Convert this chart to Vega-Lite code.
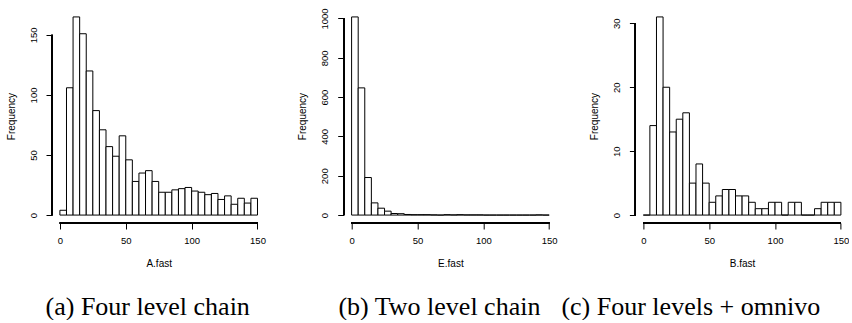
{
  "$schema": "https://vega.github.io/schema/vega-lite/v6.json",
  "background": "white",
  "padding": {"left": 6, "top": 7, "right": 0, "bottom": 0},
  "datasets": {
    "A": [
      {"x0": 0, "x1": 5, "n": 4}, {"x0": 5, "x1": 10, "n": 106}, {"x0": 10, "x1": 15, "n": 165},
      {"x0": 15, "x1": 20, "n": 151}, {"x0": 20, "x1": 25, "n": 120}, {"x0": 25, "x1": 30, "n": 87},
      {"x0": 30, "x1": 35, "n": 71}, {"x0": 35, "x1": 40, "n": 57}, {"x0": 40, "x1": 45, "n": 49},
      {"x0": 45, "x1": 50, "n": 66}, {"x0": 50, "x1": 55, "n": 46}, {"x0": 55, "x1": 60, "n": 28},
      {"x0": 60, "x1": 65, "n": 35}, {"x0": 65, "x1": 70, "n": 37}, {"x0": 70, "x1": 75, "n": 28},
      {"x0": 75, "x1": 80, "n": 19}, {"x0": 80, "x1": 85, "n": 19}, {"x0": 85, "x1": 90, "n": 21},
      {"x0": 90, "x1": 95, "n": 22}, {"x0": 95, "x1": 100, "n": 23}, {"x0": 100, "x1": 105, "n": 20},
      {"x0": 105, "x1": 110, "n": 19}, {"x0": 110, "x1": 115, "n": 17}, {"x0": 115, "x1": 120, "n": 18},
      {"x0": 120, "x1": 125, "n": 13}, {"x0": 125, "x1": 130, "n": 16}, {"x0": 130, "x1": 135, "n": 9},
      {"x0": 135, "x1": 140, "n": 14}, {"x0": 140, "x1": 145, "n": 10}, {"x0": 145, "x1": 150, "n": 14}
    ],
    "B": [
      {"x0": 0, "x1": 5, "n": 1008}, {"x0": 5, "x1": 10, "n": 647}, {"x0": 10, "x1": 15, "n": 191},
      {"x0": 15, "x1": 20, "n": 62}, {"x0": 20, "x1": 25, "n": 35}, {"x0": 25, "x1": 30, "n": 20},
      {"x0": 30, "x1": 35, "n": 8}, {"x0": 35, "x1": 40, "n": 7}, {"x0": 40, "x1": 45, "n": 3},
      {"x0": 45, "x1": 50, "n": 2}, {"x0": 50, "x1": 55, "n": 2}, {"x0": 55, "x1": 60, "n": 2},
      {"x0": 60, "x1": 65, "n": 1}, {"x0": 65, "x1": 70, "n": 0}, {"x0": 70, "x1": 75, "n": 2},
      {"x0": 75, "x1": 80, "n": 1}, {"x0": 80, "x1": 85, "n": 2}, {"x0": 85, "x1": 90, "n": 1},
      {"x0": 90, "x1": 95, "n": 1}, {"x0": 95, "x1": 100, "n": 1}, {"x0": 100, "x1": 105, "n": 0},
      {"x0": 105, "x1": 110, "n": 0}, {"x0": 110, "x1": 115, "n": 0}, {"x0": 115, "x1": 120, "n": 0},
      {"x0": 120, "x1": 125, "n": 0}, {"x0": 125, "x1": 130, "n": 0}, {"x0": 130, "x1": 135, "n": 0},
      {"x0": 135, "x1": 140, "n": 0}, {"x0": 140, "x1": 145, "n": 1}, {"x0": 145, "x1": 150, "n": 0}
    ],
    "C": [
      {"x0": 0, "x1": 5, "n": 0}, {"x0": 5, "x1": 10, "n": 14}, {"x0": 10, "x1": 15, "n": 31},
      {"x0": 15, "x1": 20, "n": 20}, {"x0": 20, "x1": 25, "n": 13}, {"x0": 25, "x1": 30, "n": 15},
      {"x0": 30, "x1": 35, "n": 16}, {"x0": 35, "x1": 40, "n": 5}, {"x0": 40, "x1": 45, "n": 8},
      {"x0": 45, "x1": 50, "n": 5}, {"x0": 50, "x1": 55, "n": 2}, {"x0": 55, "x1": 60, "n": 3},
      {"x0": 60, "x1": 65, "n": 4}, {"x0": 65, "x1": 70, "n": 4}, {"x0": 70, "x1": 75, "n": 3},
      {"x0": 75, "x1": 80, "n": 3}, {"x0": 80, "x1": 85, "n": 2}, {"x0": 85, "x1": 90, "n": 1},
      {"x0": 90, "x1": 95, "n": 1}, {"x0": 95, "x1": 100, "n": 2}, {"x0": 100, "x1": 105, "n": 2},
      {"x0": 105, "x1": 110, "n": 0}, {"x0": 110, "x1": 115, "n": 2}, {"x0": 115, "x1": 120, "n": 2},
      {"x0": 120, "x1": 125, "n": 0}, {"x0": 125, "x1": 130, "n": 0}, {"x0": 130, "x1": 135, "n": 1},
      {"x0": 135, "x1": 140, "n": 2}, {"x0": 140, "x1": 145, "n": 2}, {"x0": 145, "x1": 150, "n": 2}
    ]
  },
  "config": {
    "view": {"stroke": null},
    "axis": {
      "domain": false, "grid": false, "tickColor": "black", "tickSize": 6, "tickWidth": 1,
      "labelFont": "Liberation Sans", "labelFontSize": 9.5, "labelColor": "black", "format": "d",
      "titleFont": "Liberation Sans", "titleFontSize": 10, "titleFontWeight": "normal", "titleColor": "black"
    },
    "axisX": {"labelBaseline": "middle", "labelPadding": 11, "titlePadding": 14},
    "axisY": {"labelAngle": 270, "labelAlign": "center", "labelBaseline": "middle", "labelPadding": 13, "titlePadding": 12},
    "title": {"font": "Liberation Serif", "fontSize": 26, "fontWeight": "normal", "color": "black", "orient": "bottom", "frame": "group", "offset": 25}
  },
  "hconcat": [
    {
      "width": 213.4, "height": 214,
      "data": {"name": "A"},
      "title": {"text": "(a) Four level chain", "anchor": "middle", "dx": -11},
      "layer": [
        {
          "mark": {"type": "bar", "fill": "white", "stroke": "black", "strokeWidth": 1},
          "encoding": {
            "x": {"field": "x0", "type": "quantitative", "scale": {"domain": [-6, 156], "nice": false, "zero": false}, "axis": {"values": [0, 50, 100, 150], "title": "A.fast"}},
            "x2": {"field": "x1"},
            "y": {"field": "n", "type": "quantitative", "scale": {"domain": [-6.6, 171.6], "nice": false, "zero": false}, "axis": {"values": [0, 50, 100, 150], "title": "Frequency"}},
            "y2": {"datum": 0}
          }
        },
        {"mark": {"type": "rule", "color": "black", "strokeWidth": 1}, "encoding": {"x": {"datum": 0}, "x2": {"datum": 150}, "y": {"datum": -6.6}}},
        {"mark": {"type": "rule", "color": "black", "strokeWidth": 1}, "encoding": {"x": {"datum": -6}, "y": {"datum": 0}, "y2": {"datum": 150}}}
      ]
    },
    {
      "width": 213.4, "height": 214,
      "data": {"name": "B"},
      "title": {"text": "(b) Two level chain", "anchor": "middle", "dx": -11},
      "layer": [
        {
          "mark": {"type": "bar", "fill": "white", "stroke": "black", "strokeWidth": 1},
          "encoding": {
            "x": {"field": "x0", "type": "quantitative", "scale": {"domain": [-6, 156], "nice": false, "zero": false}, "axis": {"values": [0, 50, 100, 150], "title": "E.fast"}},
            "x2": {"field": "x1"},
            "y": {"field": "n", "type": "quantitative", "scale": {"domain": [-40.32, 1048.32], "nice": false, "zero": false}, "axis": {"values": [0, 200, 400, 600, 800, 1000], "title": "Frequency"}},
            "y2": {"datum": 0}
          }
        },
        {"mark": {"type": "rule", "color": "black", "strokeWidth": 1}, "encoding": {"x": {"datum": 0}, "x2": {"datum": 150}, "y": {"datum": -40.32}}},
        {"mark": {"type": "rule", "color": "black", "strokeWidth": 1}, "encoding": {"x": {"datum": -6}, "y": {"datum": 0}, "y2": {"datum": 1000}}}
      ]
    },
    {
      "width": 213.4, "height": 214,
      "data": {"name": "C"},
      "title": {"text": "(c) Four levels + omnivo", "anchor": "start", "dx": -74},
      "layer": [
        {
          "mark": {"type": "bar", "fill": "white", "stroke": "black", "strokeWidth": 1},
          "encoding": {
            "x": {"field": "x0", "type": "quantitative", "scale": {"domain": [-6, 156], "nice": false, "zero": false}, "axis": {"values": [0, 50, 100, 150], "title": "B.fast"}},
            "x2": {"field": "x1"},
            "y": {"field": "n", "type": "quantitative", "scale": {"domain": [-1.24, 32.24], "nice": false, "zero": false}, "axis": {"values": [0, 5, 10, 15, 20, 25, 30], "title": "Frequency"}},
            "y2": {"datum": 0}
          }
        },
        {"mark": {"type": "rule", "color": "black", "strokeWidth": 1}, "encoding": {"x": {"datum": 0}, "x2": {"datum": 150}, "y": {"datum": -1.24}}},
        {"mark": {"type": "rule", "color": "black", "strokeWidth": 1}, "encoding": {"x": {"datum": -6}, "y": {"datum": 0}, "y2": {"datum": 30}}}
      ]
    }
  ],
  "spacing": 77.7,
  "bounds": "flush"
}
